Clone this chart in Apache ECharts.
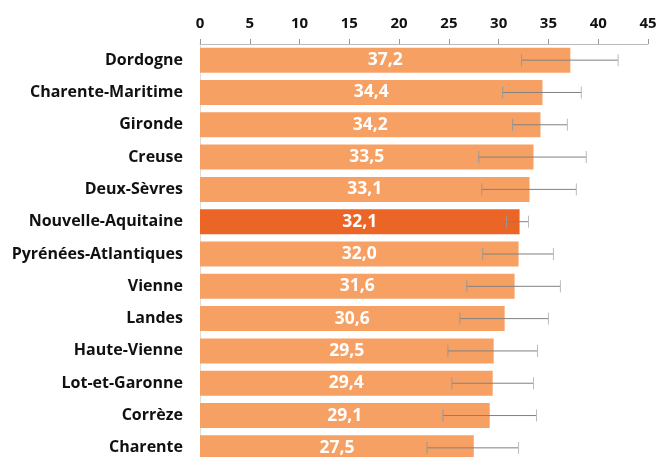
<!DOCTYPE html>
<html>
<head>
	<meta charset="utf-8">
	<script src="https://cdn.jsdelivr.net/npm/echarts@6/dist/echarts.min.js"></script>
	<style>
		html, body { margin: 0; padding: 0; background: #fff; }
	</style>
</head>
<body>
	<div id="main" style="width: 671px; height: 457px;"></div>
<script type="text/javascript">
        // données
        var categories = ['Dordogne', 'Charente-Maritime', 'Gironde', 'Creuse', 'Deux-Sèvres',
            'Nouvelle-Aquitaine', 'Pyrénées-Atlantiques', 'Vienne', 'Landes', 'Haute-Vienne',
            'Lot-et-Garonne', 'Corrèze', 'Charente'];
        var values = [37.2, 34.4, 34.2, 33.5, 33.1, 32.1, 32.0, 31.6, 30.6, 29.5, 29.4, 29.1, 27.5];
        var lowValues = [32.3, 30.4, 31.4, 28.0, 28.3, 30.8, 28.4, 26.8, 26.1, 24.9, 25.3, 24.4, 22.8];
        var highValues = [42.0, 38.3, 36.9, 38.8, 37.8, 33.0, 35.5, 36.2, 35.0, 33.9, 33.5, 33.8, 32.0];
        var highlight = 'Nouvelle-Aquitaine';

        var font = '"Open Sans", "Noto Sans", sans-serif';
        var myChart = echarts.init(document.getElementById('main'));

        var barData = [];
        var errData = [];
        for (var i = 0; i < categories.length; i++) {
            barData.push({
                value: values[i],
                itemStyle: { color: categories[i] === highlight ? '#EA6526' : '#F7A064' }
            });
            errData.push([i, lowValues[i], highValues[i]]);
        }

        var option = {
            backgroundColor: '#fff',
            animation: false,
            // le graphique est coupé en bas, la grille dépasse le cadre
            grid: { left: 200, right: 23, top: 44, height: 420, outerBoundsMode: 'none', containLabel: false },
            xAxis: {
                type: 'value',
                position: 'top',
                min: 0,
                max: 45,
                interval: 5,
                axisLine: { show: true, lineStyle: { color: '#bbb' } },
                axisTick: { show: true, inside: false, length: 5, lineStyle: { color: '#999' } },
                splitLine: { show: false },
                axisLabel: { color: '#111', fontFamily: font, fontWeight: 'bold', fontSize: 15, margin: 13 }
            },
            yAxis: {
                type: 'category',
                data: categories,
                inverse: true,
                axisLine: { show: true, lineStyle: { color: '#ddd' } },
                axisTick: { show: false },
                axisLabel: { color: '#111', fontFamily: font, fontWeight: 'bold', fontSize: 16, margin: 17 }
            },
            series: [
                {
                    type: 'bar',
                    data: barData,
                    barWidth: 25,
                    label: {
                        show: true,
                        position: 'inside',
                        color: '#fff',
                        fontFamily: font,
                        fontWeight: 'bold',
                        fontSize: 17.5,
                        formatter: function (p) {
                            return p.value.toFixed(1).replace('.', ',');
                        }
                    }
                },
                {
                    type: 'custom',
                    data: errData,
                    z: 10,
                    renderItem: function (params, api) {
                        var idx = api.value(0);
                        var p1 = api.coord([api.value(1), idx]);
                        var p2 = api.coord([api.value(2), idx]);
                        var h = 6;
                        return {
                            type: 'group',
                            children: [
                                { type: 'line', shape: { x1: p1[0], y1: p1[1], x2: p2[0], y2: p2[1] },
                                  style: { stroke: '#808080', lineWidth: 1 } },
                                { type: 'line', shape: { x1: p1[0], y1: p1[1] - h, x2: p1[0], y2: p1[1] + h },
                                  style: { stroke: '#999', lineWidth: 1 } },
                                { type: 'line', shape: { x1: p2[0], y1: p2[1] - h, x2: p2[0], y2: p2[1] + h },
                                  style: { stroke: '#bbb', lineWidth: 1 } }
                            ]
                        };
                    }
                }
            ]
        };

        myChart.setOption(option);
    </script>
</body>
</html>
